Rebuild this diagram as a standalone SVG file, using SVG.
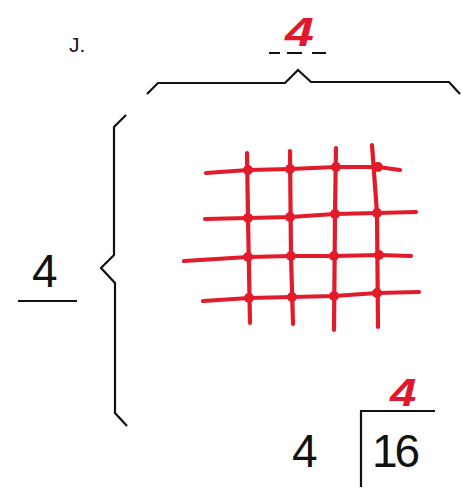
<svg xmlns="http://www.w3.org/2000/svg" width="462" height="493" viewBox="0 0 462 493">
<style>
.ink{fill:none;stroke:#111;stroke-width:2.2;stroke-linejoin:miter;stroke-linecap:butt}
.txt{font-family:"Liberation Sans",Arial,sans-serif;fill:#111}
.red{font-family:"Liberation Sans",Arial,sans-serif;font-style:italic;font-weight:bold;fill:#e0182d}
.grid{fill:none;stroke:#e21b2b;stroke-width:4.2;stroke-linecap:round;stroke-linejoin:round}
.dot{fill:#e21b2b}
</style>
<rect width="462" height="493" fill="#fff"/>
<g id="label-j"><text class="txt" x="69" y="52" font-size="21">J.</text></g>
<g id="top-answer">
<text class="red" transform="translate(285,46) scale(1.3,1)" x="0" y="0" font-size="40">4</text>
<path class="ink" d="M269 53H280M287 53H302M312 53H326" stroke-width="2"/>
</g>
<g id="top-brace"><path class="ink" d="M147 94L158 83H285L298 70L311 82H449L460 94"/></g>
<g id="left-brace"><path class="ink" d="M126 115L114 127V255L101 268L115 283V413L127 426"/></g>
<g id="left-answer">
<text class="txt" x="32" y="287" font-size="46">4</text>
<path class="ink" d="M18 301H77"/>
</g>
<g id="grid">
<path class="grid" d="M206 173L248 170L290 169L336 167L378 167L400 170"/>
<path class="grid" d="M205 219L248 218L290 217L335 214L377 213L416 212"/>
<path class="grid" d="M184 261L248 257L291 256L334 256L379 255L411 256"/>
<path class="grid" d="M203 301L249 298L292 297L334 296L377 293L419 292"/>
<path class="grid" d="M247 153L248 218L250 323"/>
<path class="grid" d="M290 151L291 256L293 324"/>
<path class="grid" d="M336 148L335 214L334 330"/>
<path class="grid" d="M372 145L377 213L378 327"/>
<g class="dot">
<circle cx="248" cy="170" r="5"/><circle cx="290" cy="169" r="5"/><circle cx="336" cy="167" r="5"/><circle cx="378" cy="167" r="5"/>
<circle cx="248" cy="218" r="5"/><circle cx="290" cy="217" r="5"/><circle cx="335" cy="214" r="5"/><circle cx="377" cy="213" r="5"/>
<circle cx="248" cy="257" r="5"/><circle cx="291" cy="256" r="5"/><circle cx="334" cy="256" r="5"/><circle cx="379" cy="255" r="5"/>
<circle cx="249" cy="298" r="5"/><circle cx="292" cy="297" r="5"/><circle cx="334" cy="296" r="5"/><circle cx="377" cy="293" r="5"/>
</g>
</g>
<g id="division">
<text class="txt" x="292" y="467" font-size="46">4</text>
<path class="ink" d="M361 487V411H435" stroke-width="2.6"/>
<text class="txt" x="372" y="467" font-size="46" letter-spacing="-3">16</text>
<text class="red" transform="translate(390,406) scale(1.25,1)" x="0" y="0" font-size="38">4</text>
</g>
</svg>
